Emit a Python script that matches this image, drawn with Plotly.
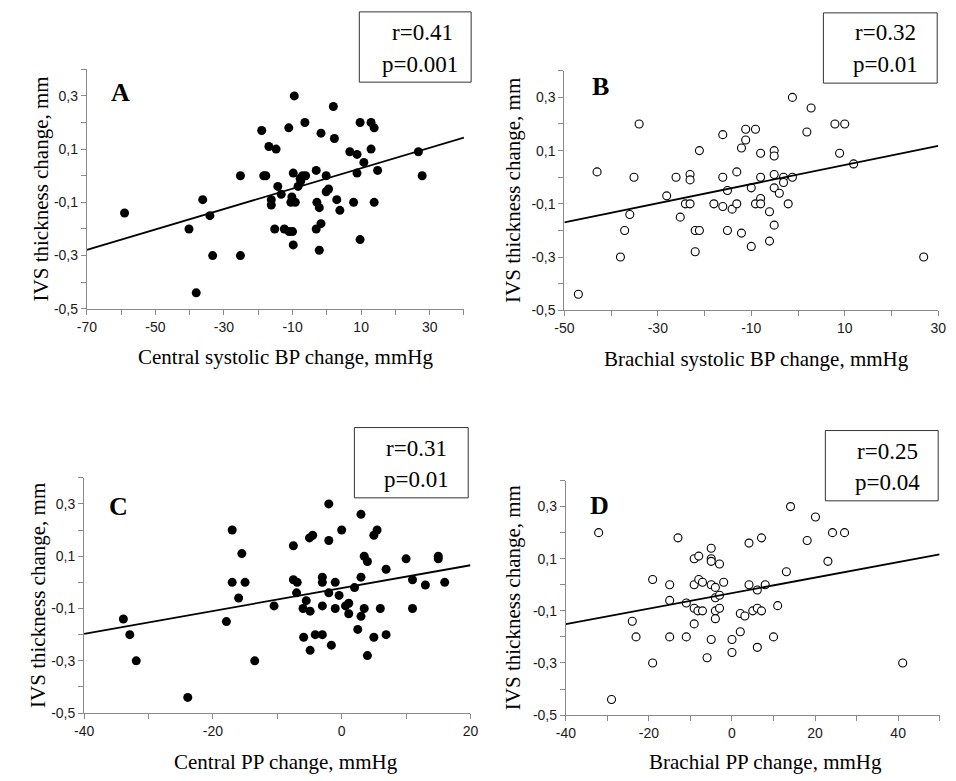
import numpy as np
import plotly.graph_objects as go

# ---------------- data ----------------
# A: central systolic BP change (mmHg) vs IVS thickness change (mm)
a_x = [-59.0, -40.2, -36.2, -34.1, -33.3, -38.1, -25.2, -25.2, -19.0, -18.4, -17.8, -16.9,
       -14.8, -16.2, -16.2, -14.3, -13.3, -15.2, -12.4, -11.0, -10.0, -11.1, -9.5, -9.8,
       -10.2, -10.5, -9.2, -9.8, -7.8, -7.1, -6.2, -8.4, -7.6, -6.4, -3.1, -1.7, -2.9, -2.2,
       -3.1, -1.7, -2.2, -0.2, -0.2, 0.5, 2.2, 1.9, 2.9, 3.8, 6.7, 8.8, 8.8, 7.8, 9.7, 9.7,
       10.8, 12.9, 12.9, 13.8, 14.8, 13.8, 26.7, 27.8]
a_y = [-0.14, -0.20, -0.09, -0.15, -0.30, -0.44, 0.00, -0.30, 0.17, 0.00, 0.00, 0.11,
       0.10, -0.09, -0.11, -0.04, -0.07, -0.20, -0.20, -0.21, -0.21, 0.18, 0.30, 0.01,
       -0.08, -0.10, -0.10, -0.26, -0.01, 0.00, 0.00, -0.04, -0.02, 0.20, 0.02, 0.16, -0.10, -0.12,
       -0.20, -0.18, -0.28, 0.00, -0.06, -0.05, 0.14, 0.26, -0.09, -0.13, 0.09, 0.08, 0.01, -0.10, 0.20, -0.24,
       0.05, 0.10, 0.20, 0.18, 0.02, -0.10, 0.09, 0.00]
a_fit = (-0.010, 0.00384)      # intercept, slope
a_stats = ("r=0.41", "p=0.001")

# B: brachial systolic BP change (mmHg)
b_x = [-47.0, -43.0, -38.0, -37.1, -36.0, -35.1, -34.0, -28.1, -26.1, -25.2, -24.1, -23.1,
       -23.1, -23.1, -22.0, -21.1, -22.0, -21.1, -18.0, -16.1, -16.1, -16.1, -15.1, -15.1,
       -14.1, -13.1, -13.1, -12.1, -12.1, -11.2, -11.2, -10.0, -10.0, -9.1, -9.1, -8.0, -8.0,
       -8.0, -8.0, -6.1, -6.1, -5.1, -5.1, -5.1, -5.1, -5.1, -4.0, -3.1, -3.1, -2.1, -1.2, -1.2,
       1.9, 2.8, 7.9, 10.0, 8.9, 11.9, 26.9]
b_y = [-0.44, 0.02, -0.30, -0.20, -0.14, 0.00, 0.20, -0.07, 0.00, -0.15, -0.10, -0.10,
       0.01, -0.01, -0.20, -0.20, -0.28, 0.10, -0.10, 0.16, 0.00, -0.11, -0.05, -0.20,
       -0.12, 0.02, -0.10, 0.11, -0.21, 0.18, 0.14, -0.04, -0.26, 0.18, -0.10, 0.09, 0.00,
       -0.08, -0.10, -0.13, -0.24, 0.10, 0.08, 0.01, -0.04, -0.18, -0.06, 0.00, -0.02, -0.10, 0.00, 0.30,
       0.17, 0.26, 0.20, 0.20, 0.09, 0.05, -0.30]
b_fit = (0.010, 0.0036)
b_stats = ("r=0.32", "p=0.01")

# C: central PP change (mmHg)
c_x = [-33.9, -32.9, -31.9, -23.9, -17.9, -17.0, -17.0, -16.0, -15.5, -15.0, -13.5, -10.5,
       -7.5, -7.5, -6.9, -7.0, -6.0, -5.9, -5.5, -5.0, -4.5, -4.9, -4.9, -4.1, -3.0, -3.0,
       -3.0, -3.0, -2.0, -2.0, -2.0, -1.6, -1.0, -1.0, -0.4, 0.0, 0.6, 1.1, 1.1, 2.0, 2.5,
       3.0, 3.0, 3.0, 3.5, 4.0, 3.5, 4.0, 5.0, 5.5, 5.0, 6.0, 6.9, 6.9, 10.0, 11.0, 11.0,
       13.0, 15.0, 15.0, 16.0]
c_y = [-0.14, -0.20, -0.30, -0.44, -0.15, 0.20, 0.00, -0.06, 0.11, 0.00, -0.30, -0.09,
       0.14, 0.01, 0.00, -0.04, -0.10, -0.21, -0.07, 0.17, 0.18, -0.11, -0.26, -0.20, -0.20, -0.09,
       0.02, 0.00, 0.30, 0.16, -0.04, -0.24, 0.00, -0.10, -0.05, 0.20, -0.09, -0.08, -0.12, -0.02, -0.18,
       0.26, 0.02, -0.13, 0.10, 0.08, -0.10, -0.28, 0.18, 0.20, -0.21, -0.10, 0.05, -0.20, 0.09, 0.01, -0.10,
       -0.01, 0.10, 0.09, 0.00]
c_fit = (-0.022, 0.00437)
c_stats = ("r=0.31", "p=0.01")

# D: brachial PP change (mmHg)
d_x = [-32.1, -29.0, -24.0, -23.1, -19.1, -19.1, -15.0, -15.0, -15.0, -13.0, -11.0, -11.0,
       -9.1, -9.1, -9.1, -9.1, -8.0, -8.0, -8.2, -7.1, -7.1, -5.0, -5.0, -5.0, -5.0, -5.0,
       -6.0, -4.0, -4.0, -4.0, -4.0, -3.0, -3.0, -3.0, -2.0, 0.0, 0.0, 2.0, 2.0, 3.1, 4.1,
       4.1, 5.0, 6.1, 6.1, 6.1, 7.1, 7.1, 8.0, 10.0, 11.0, 13.1, 14.1, 18.1, 20.1, 23.1,
       24.2, 27.1, 41.1]
d_y = [0.20, -0.44, -0.14, -0.20, 0.02, -0.30, 0.00, -0.06, -0.20, 0.18, -0.07, -0.20,
       0.10, 0.00, -0.09, -0.15, 0.11, 0.02, -0.10, 0.01, -0.10, 0.14, 0.10, 0.09, 0.00, -0.21,
       -0.28, -0.01, -0.05, -0.10, -0.13, 0.08, -0.04, -0.09, 0.01, -0.21, -0.26, -0.11, -0.18, -0.12, 0.16,
       0.00, -0.10, -0.02, -0.09, -0.24, 0.18, -0.10, 0.00, -0.20, -0.08, 0.05, 0.30, 0.17, 0.26, 0.09,
       0.20, 0.20, -0.30]
d_fit = (-0.032, 0.00298)
d_stats = ("r=0.25", "p=0.04")

# shared y axis ticks
y_tickvals = [-0.5, -0.4, -0.3, -0.2, -0.1, 0.0, 0.1, 0.2, 0.3, 0.4]
y_ticktext = ["-0,5", "", "-0,3", "", "-0,1", "", "0,1", "", "0,3", ""]

# x axis ticks per panel
a_xticks = [-70, -60, -50, -40, -30, -20, -10, 0, 10, 20, 30, 40]
a_xlabels = ["-70", "", "-50", "", "-30", "", "-10", "", "10", "", "30", ""]
b_xticks = [-50, -40, -30, -20, -10, 0, 10, 20, 30]
b_xlabels = ["-50", "", "-30", "", "-10", "", "10", "", "30"]
c_xticks = [-40, -30, -20, -10, 0, 10, 20]
c_xlabels = ["-40", "", "-20", "", "0", "", "20"]
d_xticks = [-40, -30, -20, -10, 0, 10, 20, 30, 40, 50]
d_xlabels = ["-40", "", "-20", "", "0", "", "20", "", "40", ""]

x_titles = ["Central systolic BP change, mmHg", "Brachial systolic BP change, mmHg",
            "Central PP change, mmHg", "Brachial PP change, mmHg"]
y_title = "IVS thickness change, mm"
letters = ["A", "B", "C", "D"]

# ---------------- layout helpers ----------------
W, H = 956, 781
SERIF = "Liberation Serif, Times New Roman, serif"
SANS = "Liberation Sans, Arial, sans-serif"


def px(x):
    return x / W


def py(y):
    return 1 - y / H


panels = [
    dict(x=a_x, y=a_y, fit=a_fit, stats=a_stats, ticks=a_xticks, labels=a_xlabels, filled=True,
         box=(78.3, 462.7, 70.0, 312.0), ytitle_x=32, xtitle=(281, 361),
         letter=(113, 93), sbox=(356, 470, 12, 83), stext=(420, 418, 33, 65)),
    dict(x=b_x, y=b_y, fit=b_fit, stats=b_stats, ticks=b_xticks, labels=b_xlabels, filled=False,
         box=(565.0, 946.0, 71.5, 313.5), ytitle_x=512, xtitle=(761, 363),
         letter=(602, 87), sbox=(829, 945, 13, 84), stext=(892, 892, 33, 65)),
    dict(x=c_x, y=c_y, fit=c_fit, stats=c_stats, ticks=c_xticks, labels=c_xlabels, filled=True,
         box=(75.5, 469.3, 482.7, 720.5), ytitle_x=29, xtitle=(281, 770),
         letter=(111, 512), sbox=(351, 467, 432, 503), stext=(414, 414, 453, 484)),
    dict(x=d_x, y=d_y, fit=d_fit, stats=d_stats, ticks=d_xticks, labels=d_xlabels, filled=False,
         box=(566.5, 947.5, 485.5, 722.5), ytitle_x=512, xtitle=(770, 770),
         letter=(601, 511), sbox=(831, 946, 435, 506), stext=(894, 894, 456, 487)),
]

fig = go.Figure()
annotations = []
shapes = []
layout = {}

for i, p in enumerate(panels):
    n = "" if i == 0 else str(i + 1)
    xa, ya = "x" + n, "y" + n
    x0, x1, y0, y1 = p["box"]
    xr = [p["ticks"][0], p["ticks"][-1]]

    if p["filled"]:
        marker = dict(symbol="circle", size=9, color="black", line=dict(width=0))
    else:
        marker = dict(symbol="circle", size=8, color="white", line=dict(width=1.1, color="black"))
    fig.add_trace(go.Scatter(x=p["x"], y=p["y"], mode="markers", marker=marker,
                             xaxis=xa, yaxis=ya, showlegend=False, hoverinfo="x+y"))

    # regression line across the axis range
    b0, b1 = p["fit"]
    lx = np.array(xr, dtype=float)
    fig.add_trace(go.Scatter(x=lx, y=b0 + b1 * lx, mode="lines",
                             line=dict(color="black", width=1.8),
                             xaxis=xa, yaxis=ya, showlegend=False, hoverinfo="skip"))

    axis_common = dict(showline=True, linecolor="#8a8a8a", linewidth=1, showgrid=False,
                       zeroline=False, ticks="outside", ticklen=5, tickcolor="#8a8a8a",
                       tickwidth=1, tickfont=dict(family=SANS, size=14, color="#1a1a1a"),
                       mirror=False, fixedrange=True)
    layout["xaxis" + n] = dict(axis_common, domain=[px(x0), px(x1)], range=xr, anchor=ya,
                               tickmode="array", tickvals=p["ticks"], ticktext=p["labels"])
    layout["yaxis" + n] = dict(axis_common, domain=[py(y1), py(y0)], range=[-0.5, 0.4], anchor=xa,
                               tickmode="array", tickvals=y_tickvals, ticktext=y_ticktext)

    # axis titles
    tx, ty = p["xtitle"]
    annotations.append(dict(x=px(tx), y=py(ty), xref="paper", yref="paper", text=x_titles[i],
                            showarrow=False, xanchor="center", yanchor="middle",
                            font=dict(family=SERIF, size=21, color="black")))
    annotations.append(dict(x=px(p["ytitle_x"]), y=py((y0 + y1) / 2), xref="paper", yref="paper",
                            text=y_title, textangle=-90, showarrow=False,
                            xanchor="center", yanchor="middle",
                            font=dict(family=SERIF, size=21, color="black")))
    # panel letter
    lx_, ly_ = p["letter"]
    annotations.append(dict(x=px(lx_), y=py(ly_), xref="paper", yref="paper",
                            text="<b>" + letters[i] + "</b>", showarrow=False,
                            xanchor="center", yanchor="middle",
                            font=dict(family=SERIF, size=26, color="black")))
    # statistics box
    bx0, bx1, by0, by1 = p["sbox"]
    shapes.append(dict(type="rect", xref="paper", yref="paper", x0=px(bx0), x1=px(bx1),
                       y0=py(by1), y1=py(by0), line=dict(color="#333333", width=1),
                       fillcolor="white", layer="above"))
    rx, pxx, ry, pyy = p["stext"]
    annotations.append(dict(x=px(rx), y=py(ry), xref="paper", yref="paper", text=p["stats"][0],
                            showarrow=False, xanchor="center", yanchor="middle",
                            font=dict(family=SERIF, size=23, color="black")))
    annotations.append(dict(x=px(pxx), y=py(pyy), xref="paper", yref="paper", text=p["stats"][1],
                            showarrow=False, xanchor="center", yanchor="middle",
                            font=dict(family=SERIF, size=23, color="black")))

fig.update_layout(
    width=W, height=H,
    margin=dict(l=0, r=0, t=0, b=0),
    paper_bgcolor="white", plot_bgcolor="white",
    showlegend=False,
    annotations=annotations, shapes=shapes,
    **layout,
)

fig.write_html("out.html")
